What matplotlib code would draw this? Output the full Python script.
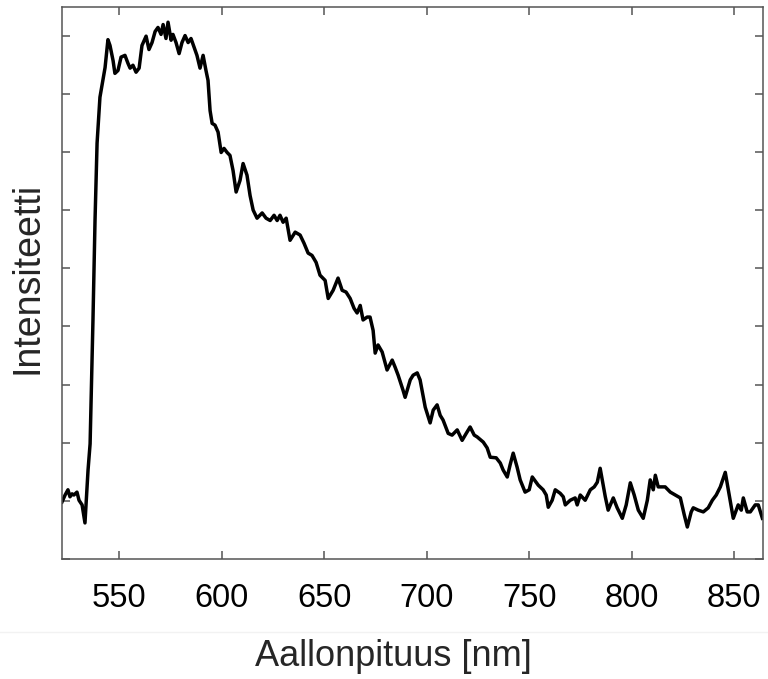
import numpy as np
import matplotlib
matplotlib.use("Agg")
import matplotlib.pyplot as plt
from matplotlib import rcParams
from matplotlib.lines import Line2D

rcParams['font.family'] = 'Liberation Sans'
rcParams['axes.edgecolor'] = '#555555'
rcParams['axes.linewidth'] = 1.1

# spectrum (intensity in tick units, ticks unlabeled)
wavelength = [522.2, 523.7, 525.1, 526.1, 527.1, 528.0, 529.5, 530.5, 532.0, 533.4,
              534.9, 535.9, 537.3, 538.3, 539.3, 540.7, 543.2, 544.6, 545.6, 547.1,
              548.0, 549.5, 551.0, 552.9, 554.4, 555.4, 556.8, 558.3, 559.8, 561.2,
              563.2, 564.6, 566.1, 567.6, 569.0, 570.5, 571.5, 572.9, 573.9, 575.4,
              576.3, 577.8, 579.3, 580.7, 582.2, 583.7, 585.1, 586.6, 588.0, 589.5,
              591.0, 592.4, 593.4, 594.4, 595.4, 596.8, 598.3, 599.8, 601.2, 602.7,
              604.1, 605.6, 607.1, 609.0, 610.5, 612.4, 613.9, 615.4, 617.3, 619.8,
              621.7, 623.7, 625.6, 627.1, 628.5, 630.0, 631.5, 633.4, 635.9, 638.3,
              640.2, 642.2, 644.1, 646.1, 648.0, 650.5, 652.0, 654.4, 656.8, 658.8,
              660.7, 662.7, 664.6, 666.1, 667.6, 669.0, 671.0, 672.4, 673.9, 674.9,
              676.3, 678.3, 680.7, 683.2, 684.6, 686.1, 688.5, 689.5, 692.0, 693.4,
              695.4, 696.8, 699.3, 701.7, 703.2, 705.1, 706.6, 708.0, 710.5, 712.4,
              714.9, 717.3, 719.3, 721.2, 723.2, 724.6, 727.6, 729.5, 731.0, 733.9,
              735.9, 737.3, 739.3, 740.7, 742.2, 744.1, 745.6, 748.0, 750.0, 751.5,
              754.4, 756.8, 758.3, 759.3, 761.2, 762.7, 765.1, 766.6, 767.6, 770.0,
              772.4, 773.4, 774.9, 777.3, 779.8, 781.7, 783.2, 784.6, 786.1, 787.1,
              788.5, 791.0, 792.9, 795.4, 797.3, 799.3, 801.2, 803.2, 805.6, 807.6,
              809.0, 810.5, 811.5, 812.9, 816.3, 818.8, 821.2, 823.7, 825.6, 827.1,
              829.0, 830.0, 832.4, 834.9, 837.3, 839.3, 841.2, 843.2, 845.6, 847.1,
              848.0, 849.5, 851.9, 853.4, 854.4, 856.3, 857.8, 860.2, 861.7, 863.7]
intensity = [0.98, 1.10, 1.19, 1.07, 1.12, 1.10, 1.15, 1.01, 0.93, 0.62,
             1.53, 1.98, 4.11, 5.82, 7.15, 7.94, 8.45, 8.93, 8.83, 8.57,
             8.35, 8.40, 8.63, 8.66, 8.52, 8.44, 8.49, 8.37, 8.44, 8.83,
             8.99, 8.76, 8.88, 9.07, 9.14, 9.02, 9.19, 8.95, 9.23, 8.92,
             9.02, 8.88, 8.69, 8.88, 9.00, 8.88, 8.95, 8.80, 8.66, 8.44,
             8.66, 8.40, 8.23, 7.71, 7.49, 7.46, 7.34, 6.99, 7.06, 6.99,
             6.94, 6.68, 6.31, 6.51, 6.80, 6.60, 6.25, 6.00, 5.86, 5.95,
             5.86, 5.82, 5.91, 5.82, 5.91, 5.79, 5.86, 5.48, 5.62, 5.57,
             5.43, 5.26, 5.22, 5.10, 4.88, 4.79, 4.48, 4.62, 4.83, 4.62,
             4.59, 4.48, 4.31, 4.23, 4.36, 4.11, 4.16, 4.16, 3.93, 3.54,
             3.68, 3.56, 3.25, 3.42, 3.30, 3.16, 2.90, 2.78, 3.08, 3.16,
             3.20, 3.08, 2.61, 2.34, 2.56, 2.65, 2.47, 2.39, 2.16, 2.13,
             2.22, 2.04, 2.16, 2.27, 2.13, 2.10, 2.01, 1.91, 1.75, 1.74,
             1.65, 1.53, 1.41, 1.62, 1.82, 1.58, 1.36, 1.15, 1.19, 1.41,
             1.27, 1.19, 1.10, 0.89, 1.01, 1.19, 1.13, 1.07, 0.93, 1.01,
             1.05, 0.93, 1.10, 1.01, 1.19, 1.24, 1.32, 1.56, 1.27, 1.07,
             0.84, 1.05, 0.88, 0.70, 0.93, 1.31, 1.10, 0.84, 0.70, 1.01,
             1.36, 1.19, 1.44, 1.24, 1.24, 1.15, 1.10, 1.05, 0.76, 0.55,
             0.81, 0.88, 0.84, 0.81, 0.88, 1.01, 1.10, 1.24, 1.49, 1.19,
             1.01, 0.70, 0.93, 0.84, 1.05, 0.81, 0.81, 0.93, 0.93, 0.70]

x_ticks = [550, 600, 650, 700, 750, 800, 850]
y_ticks = [0, 1, 2, 3, 4, 5, 6, 7, 8, 9]

fig = plt.figure(figsize=(7.68, 6.79), dpi=100)
ax = fig.add_axes([62/768, 1 - 559/679, 701/768, 552.5/679])

ax.plot(wavelength, intensity, '-', color='black', linewidth=2.5,
        solid_joinstyle='round')

ax.set_xlim(522.2, 864)
ax.set_ylim(0, 9.5)
ax.set_xticks(x_ticks)
ax.set_xticklabels([str(v) for v in x_ticks], fontsize=23.5)
ax.set_yticks(y_ticks)
ax.set_yticklabels([])
ax.tick_params(direction='in', length=6, width=1.1, color='#555555',
               top=True, right=True, labelcolor='black')
ax.tick_params(axis='x', pad=17)

fig.text(393.5/768, 1 - 657/679, "Aallonpituus [nm]", fontsize=26,
         color='#262626', ha='center', va='center')
fig.text(28/768, 1 - 278/679, "Intensiteetti", fontsize=27, color='#262626',
         ha='center', va='center', rotation=90)

# faint separator under the tick labels
fig.add_artist(Line2D([0, 1], [1 - 632/679, 1 - 632/679],
                      transform=fig.transFigure, color='#f2f2f2', linewidth=1))

fig.savefig("out.png", dpi=100)
